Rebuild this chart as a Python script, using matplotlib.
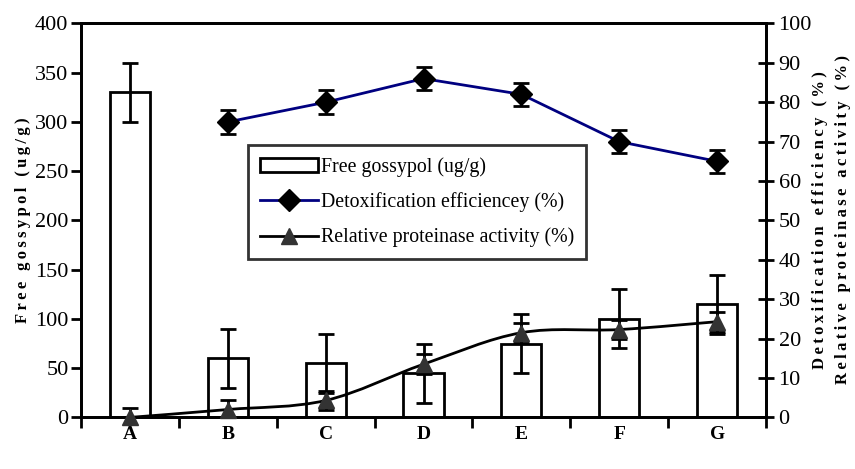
import matplotlib
matplotlib.use("Agg")
import numpy as np
import matplotlib.pyplot as plt
from matplotlib.path import Path
from matplotlib.patches import PathPatch, Patch
from matplotlib.lines import Line2D

plt.rcParams['font.family'] = ['Liberation Serif', 'DejaVu Serif']

# data
groups = ['A', 'B', 'C', 'D', 'E', 'F', 'G']
gossypol = [330, 60, 55, 45, 75, 100, 115]
gossypol_err = [30, 30, 30, 30, 30, 30, 30]
detox_groups = ['B', 'C', 'D', 'E', 'F', 'G']
detox = [75, 80, 86, 82, 70, 65]
detox_err = [3, 3, 3, 3, 3, 3]
proteinase = [0, 2, 4.3, 13.5, 21.5, 22.3, 24.3]
proteinase_err = [2.5, 2.5, 2.5, 2.5, 2.5, 2.5, 2.5]


def spaced(s):
    return '\u2009'.join(s)


def smooth_path(xs, ys):
    # excel-style smoothed line as cubic bezier segments
    pts = np.column_stack([xs, ys]).astype(float)
    verts = [pts[0]]
    codes = [Path.MOVETO]
    n = len(pts)
    for i in range(n - 1):
        p0 = pts[i - 1] if i > 0 else pts[i]
        p1, p2 = pts[i], pts[i + 1]
        p3 = pts[i + 2] if i + 2 < n else pts[i + 1]
        c1 = p1 + (p2 - p0) / 6.0
        c2 = p2 - (p3 - p1) / 6.0
        verts += [c1, c2, p2]
        codes += [Path.CURVE4] * 3
    return Path(verts, codes)


fig = plt.figure(figsize=(8.55, 4.69), dpi=100)
ax = fig.add_axes([0.0947, 0.110, 0.8013, 0.840])
ax2 = ax.twinx()

x = np.arange(len(groups))
xd = np.array([groups.index(g) for g in detox_groups])

ax.bar(x, gossypol, width=0.41, facecolor='white', edgecolor='black',
       linewidth=2, zorder=2)
ax.errorbar(x, gossypol, yerr=gossypol_err, fmt='none', ecolor='black',
            elinewidth=2, capsize=6, capthick=2, zorder=3)

ax2.add_patch(PathPatch(smooth_path(x, proteinase), facecolor='none',
                        edgecolor='black', linewidth=2, zorder=3))
ax2.errorbar(x, proteinase, yerr=proteinase_err, fmt='none', ecolor='black',
             elinewidth=2, capsize=6, capthick=2, zorder=4)
ax2.plot(x, proteinase, linestyle='none', marker='^', markersize=12,
         color='#333333', zorder=5, clip_on=False)

ax2.errorbar(xd, detox, yerr=detox_err, fmt='none', ecolor='black',
             elinewidth=2, capsize=6, capthick=2, zorder=4)
ax2.plot(xd, detox, color='#000080', linewidth=2, marker='D', markersize=11,
         markerfacecolor='black', markeredgecolor='black', zorder=5)

ax.set_xlim(-0.5, len(groups) - 0.5)
ax.set_ylim(0, 400)
ax2.set_ylim(0, 100)
ax.set_yticks(np.arange(0, 401, 50))
ax2.set_yticks(np.arange(0, 101, 10))

ax.set_xticks(x)
ax.set_xticklabels(groups, fontsize=14, fontweight='bold')
ax.set_xticks(np.arange(-0.5, len(groups), 1), minor=True)
ax.tick_params(axis='x', which='major', length=0, pad=6)
ax.tick_params(axis='x', which='minor', length=8, width=2, direction='out')
ax.tick_params(axis='y', length=7, width=2, direction='out', labelsize=16, pad=2)
ax2.tick_params(axis='y', length=12, width=2, direction='inout', labelsize=16, pad=3)

for a in (ax, ax2):
    for s in a.spines.values():
        s.set_linewidth(2)

ax.set_ylabel(spaced('Free gossypol (ug/g)'), fontsize=12, fontweight='bold',
              labelpad=3)
fig.text(820 / 855, 0.531, spaced('Detoxification efficiency (%)'),
         rotation=90, ha='center', va='center', fontsize=12, fontweight='bold')
fig.text(843 / 855, 0.531, spaced('Relative proteinase activity (%)'),
         rotation=90, ha='center', va='center', fontsize=12, fontweight='bold')

handles = [
    Patch(facecolor='white', edgecolor='black', linewidth=2),
    Line2D([], [], color='#000080', linewidth=2, marker='D', markersize=11,
           markerfacecolor='black', markeredgecolor='black'),
    Line2D([], [], color='black', linewidth=2, marker='^', markersize=12,
           markerfacecolor='#333333', markeredgecolor='#333333'),
]
labels = ['Free gossypol (ug/g)', 'Detoxification efficiencey (%)',
          'Relative proteinase activity (%)']
leg = ax2.legend(handles, labels, loc='upper left',
                 bbox_to_anchor=(0.244, 0.691), borderaxespad=0, fontsize=14.3,
                 frameon=True, fancybox=False, edgecolor='black',
                 handlelength=2.9, handletextpad=0.15, labelspacing=0.78,
                 borderpad=0.6)
leg.get_frame().set_linewidth(2)

fig.savefig('out.png', dpi=100)
